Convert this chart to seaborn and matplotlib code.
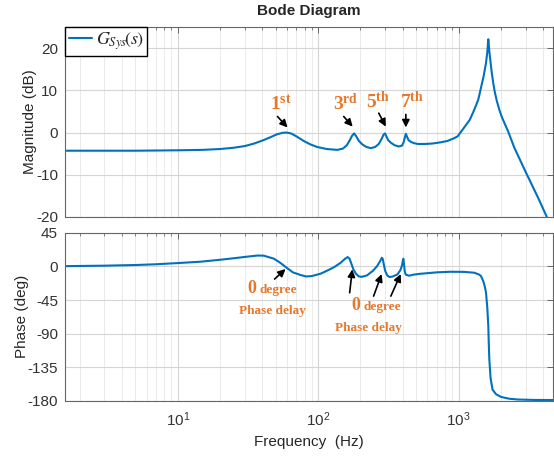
import numpy as np
import pandas as pd
import matplotlib
matplotlib.use("Agg")
import matplotlib.pyplot as plt
from matplotlib.ticker import LogLocator, NullFormatter, FixedLocator
import seaborn as sns

# magnitude curve
mag_freq = [1.57, 5, 10, 15, 20, 25, 30, 35, 40, 45, 51, 56, 59.5, 64, 70, 79, 88, 98,
            115, 137, 150, 160, 168, 174, 180, 186, 195, 206, 220, 237, 255, 270, 283,
            292, 299, 305, 315, 329, 350, 375, 395, 405, 414, 421, 428, 440, 457, 480,
            510, 580, 650, 750, 830, 920, 984, 1090, 1200, 1293, 1380, 1443, 1510, 1567,
            1600, 1627, 1655, 1680, 1720, 1760, 1800, 1870, 1950, 2030, 2117, 2250, 2494,
            3000, 3700, 4248, 4700]
mag_db = [-4.3, -4.3, -4.2, -4.1, -3.9, -3.6, -3.2, -2.6, -1.9, -1.2, -0.4, -0.05, 0.0,
          -0.2, -0.9, -2.0, -2.8, -3.4, -3.9, -4.1, -3.8, -3.0, -1.8, -0.8, -0.2, -0.8,
          -2.0, -2.8, -3.4, -3.7, -3.4, -2.7, -1.5, -0.5, -0.2, -0.8, -1.8, -2.4, -3.0,
          -3.3, -3.1, -2.4, -1.2, -0.3, -0.9, -1.8, -2.2, -2.5, -2.7, -2.7, -2.6, -2.3,
          -2.0, -1.4, -0.9, 1.1, 3.0, 5.4, 7.8, 10.6, 13.5, 16.5, 19.0, 22.1, 19.2, 17.3,
          14.3, 12.0, 10.0, 7.5, 5.4, 3.7, 2.3, 0.3, -3.6, -9.3, -15.6, -20.0, -23.5]

# phase curve
phase_freq = [1.57, 3, 5, 7, 10, 14.5, 20, 26, 32, 37, 41, 45, 48.3, 53, 57, 60, 66, 75,
              82, 90, 104, 118, 130, 145, 155, 162, 167, 172, 178, 186, 195, 205, 223,
              245, 262, 276, 284, 288, 293, 300, 310, 322, 340, 367, 385, 395, 401, 404,
              408, 413, 420, 443, 480, 535, 700, 877, 1100, 1293, 1400, 1443, 1500, 1540,
              1567, 1600, 1627, 1640, 1654, 1690, 1746, 1850, 2009, 2300, 2640, 3500, 4700]
phase_deg = [0.3, 0.9, 1.8, 2.8, 4.4, 6.2, 8.8, 11.2, 13.2, 14.5, 14.3, 12.0, 10.3, 5.5,
             1.0, -2.2, -8, -11.6, -13.5, -13.0, -9.8, -5, -1, 5, 10, 12.4, 10.5, 4, -4,
             -10, -13.5, -14, -12, -6, 0, 7, 11.5, 10, 3, -6, -12, -14.3, -13.5, -10.7,
             -5, 1, 8, 10.2, 4, -6, -11, -12.5, -11, -9.9, -8, -7.2, -7.4, -8.5, -11, -13,
             -20, -28, -35, -55, -80, -103, -124, -150, -165, -171, -174.6, -177, -178,
             -178.6, -178.7]

harmonic_labels = [r"$\mathbf{1^{st}}$", r"$\mathbf{3^{rd}}$", r"$\mathbf{5^{th}}$", r"$\mathbf{7^{th}}$"]

blue = "#0072BD"
orange = "#E6782D"

sns.set_theme(style="whitegrid")
plt.rcParams["font.family"] = ["Liberation Sans", "DejaVu Sans"]
plt.rcParams["axes.unicode_minus"] = False
plt.rcParams["mathtext.fontset"] = "custom"
plt.rcParams["mathtext.rm"] = "Liberation Serif"
plt.rcParams["mathtext.it"] = "Liberation Serif:italic"
plt.rcParams["mathtext.bf"] = "Liberation Serif:bold"

fig = plt.figure(figsize=(5.54, 4.59), dpi=100)
ax1 = fig.add_axes([65 / 554, 1 - 217 / 459, 488 / 554, 190 / 459])
ax2 = fig.add_axes([65 / 554, 1 - 401 / 459, 488 / 554, 168.3 / 459])

mag_df = pd.DataFrame({"f": mag_freq, "mag": mag_db})
ph_df = pd.DataFrame({"f": phase_freq, "ph": phase_deg})

sns.lineplot(data=mag_df, x="f", y="mag", ax=ax1, color=blue, lw=1.5,
             label=r"$G_{Sys}\!\left(s_{\,}^{\,}\!\!\right)$")
sns.lineplot(data=ph_df, x="f", y="ph", ax=ax2, color=blue, lw=1.5, legend=False)

for ax in (ax1, ax2):
    ax.set_xscale("log")
    ax.set_xlim(1.574, 4700)
    ax.set_facecolor("white")
    ax.xaxis.set_major_locator(LogLocator(base=10, numticks=10))
    ax.xaxis.set_minor_locator(LogLocator(base=10, subs=np.arange(2, 10), numticks=20))
    ax.xaxis.set_minor_formatter(NullFormatter())
    ax.grid(True, which="major", color="#D5D5D5", lw=0.8)
    ax.grid(True, which="minor", axis="x", color="#E6E6E6", lw=0.6)
    ax.tick_params(which="both", direction="in", top=True, right=True,
                   colors="#555555", labelcolor="#333333", labelsize=11, pad=5)
    ax.tick_params(which="major", length=4, width=0.6)
    ax.tick_params(which="minor", length=2, width=0.5)
    for s in ax.spines.values():
        s.set_color("#666666")
        s.set_linewidth(0.8)

ax1.set_ylim(-20, 25)
ax1.yaxis.set_major_locator(FixedLocator([-20, -10, 0, 10, 20]))
ax1.set_xlabel("")
ax1.tick_params(labelbottom=False)
ax1.set_ylabel("Magnitude (dB)", fontsize=11, color="#262626", labelpad=-1)
ax1.set_title("Bode Diagram", fontsize=11, fontweight="bold", pad=9)

ax2.set_ylim(-180, 45)
ax2.yaxis.set_major_locator(FixedLocator([-180, -135, -90, -45, 0, 45]))
ax2.tick_params(axis="x", pad=7)
ax2.set_ylabel("Phase (deg)", fontsize=11, color="#262626", labelpad=-1)
ax2.set_xlabel("Frequency  (Hz)", fontsize=11, color="#262626", labelpad=4)

leg = ax1.legend(loc="upper left", borderaxespad=0, fancybox=False, framealpha=1,
                 edgecolor="black", fontsize=13, handlelength=1.3, handletextpad=0.2,
                 borderpad=0.2)
leg.get_frame().set_linewidth(1.0)
for t in leg.get_texts():
    t.set_math_fontfamily("stix")

arrow_kw = dict(arrowstyle="-|>", color="black", lw=1.2, mutation_scale=11,
                shrinkA=0, shrinkB=0)

# harmonic labels on the magnitude plot
lab_f = [54, 157, 268, 466]
lab_y = [4.4, 4.4, 4.8, 4.8]
arrow_tail = [(51.3, 3.8), (152, 3.8), (270, 4.6), (421, 4.3)]
arrow_head = [(60.5, 1.2), (176, 1.4), (303, 1.4), (421, 1.2)]
for txt, fx, fy in zip(harmonic_labels, lab_f, lab_y):
    ax1.text(fx, fy, txt, color=orange, fontsize=14, ha="center", va="bottom")
for t, h in zip(arrow_tail, arrow_head):
    ax1.annotate("", xy=h, xytext=t, arrowprops=arrow_kw)

# phase annotations
serif_bold = dict(family="Liberation Serif", weight="bold", color=orange)
ax2.text(36.5, -36, "0", fontsize=13, ha="right", va="baseline", **serif_bold)
ax2.text(38.5, -36, "degree", fontsize=9.5, ha="left", va="baseline", **serif_bold)
ax2.text(47, -64, "Phase delay", fontsize=9.5, ha="center", va="baseline", **serif_bold)
ax2.text(199, -58, "0", fontsize=13, ha="right", va="baseline", **serif_bold)
ax2.text(211, -58, "degree", fontsize=9.5, ha="left", va="baseline", **serif_bold)
ax2.text(227, -87, "Phase delay", fontsize=9.5, ha="center", va="baseline", **serif_bold)

ph_tail = [(48.9, -17), (167.5, -35.3), (248, -39.8), (329, -39.8)]
ph_head = [(58.6, -3.6), (175, -4), (283, -10.3), (387, -10.3)]
for t, h in zip(ph_tail, ph_head):
    ax2.annotate("", xy=h, xytext=t, arrowprops=arrow_kw)

fig.savefig("out.png", dpi=100)
